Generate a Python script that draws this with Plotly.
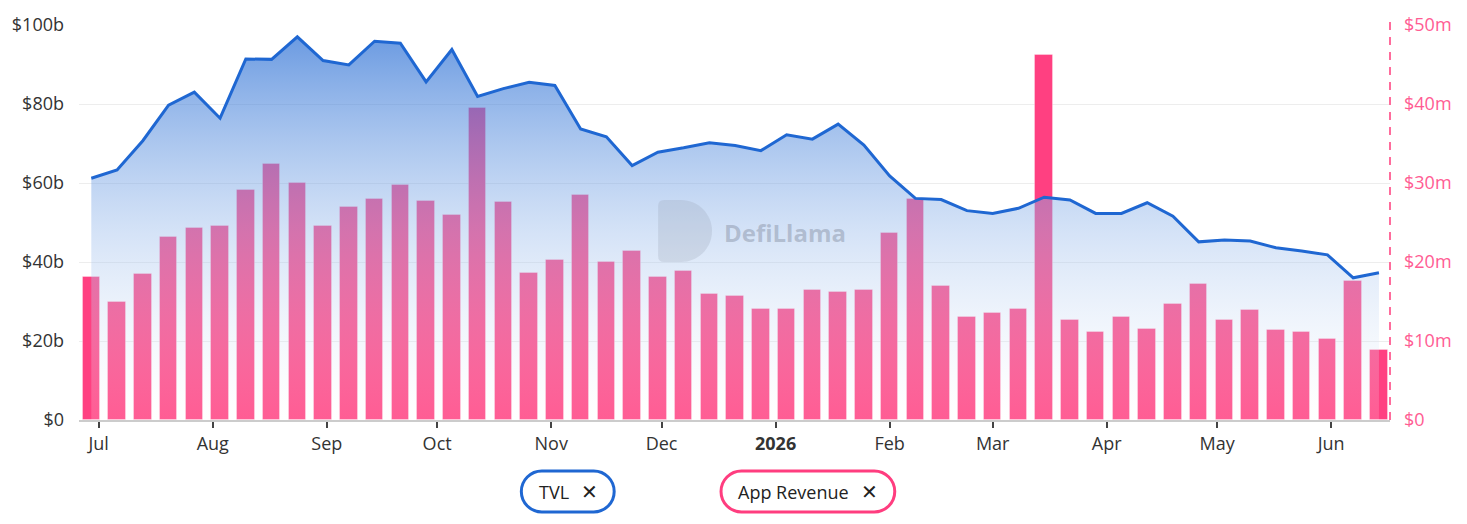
import plotly.graph_objects as go
import pandas as pd

# ---------------- data ----------------
week_start = "2025-06-29"
n_weeks = 51
dates = pd.date_range(week_start, periods=n_weeks, freq="7D")

tvl_billions = [
    61.2, 63.3, 70.7, 79.7, 83.0, 76.4, 91.4, 91.3, 97.0, 91.0,
    89.9, 95.9, 95.4, 85.6, 93.8, 81.9, 83.9, 85.5, 84.7, 73.7,
    71.7, 64.4, 67.8, 68.9, 70.2, 69.5, 68.2, 72.2, 71.1, 74.9,
    69.6, 61.8, 56.1, 55.8, 53.0, 52.3, 53.6, 56.4, 55.7, 52.3,
    52.3, 55.0, 51.6, 45.1, 45.6, 45.3, 43.6, 42.8, 41.8, 36.0,
    37.3,
]
app_revenue_millions = [
    18.1, 14.9, 18.5, 23.2, 24.3, 24.6, 29.1, 32.4, 30.0, 24.6,
    26.9, 28.0, 29.8, 27.7, 26.0, 39.5, 27.6, 18.6, 20.3, 28.5,
    20.0, 21.4, 18.1, 18.8, 15.9, 15.7, 14.1, 14.0, 16.4, 16.2,
    16.4, 23.7, 28.0, 17.0, 13.1, 13.6, 14.1, 46.2, 12.6, 11.2,
    13.0, 11.5, 14.7, 17.2, 12.7, 13.9, 11.4, 11.1, 10.2, 17.6,
    8.8,
]

month_ticks = ["2025-07-01", "2025-08-01", "2025-09-01", "2025-10-01", "2025-11-01",
               "2025-12-01", "2026-01-01", "2026-02-01", "2026-03-01", "2026-04-01",
               "2026-05-01", "2026-06-01"]
month_labels = ["Jul", "Aug", "Sep", "Oct", "Nov", "Dec", "<b>2026</b>", "Feb", "Mar",
                "Apr", "May", "Jun"]
tvl_ticks = [0, 20, 40, 60, 80, 100]
tvl_tick_labels = ["$0", "$20b", "$40b", "$60b", "$80b", "$100b"]
rev_ticks = [0, 10, 20, 30, 40, 50]
rev_tick_labels = ["$0", "$10m", "$20m", "$30m", "$40m", "$50m"]

# ---------------- style ----------------
W, H = 1467, 524
ML, MR, MT, MB = 77, 77, 25, 104
PW = W - ML - MR
PH = H - MT - MB
FONT = "Open Sans"
BLUE = "#1f67d2"
PINK = "#ff4081"
PINK_TXT = "#ff5c93"


def px(x):
    return (x - ML) / PW


def py(y):
    return (MT + PH - y) / PH


def pill(x0, y0, x1, y1):
    r = (y1 - y0) / 2
    k = 0.5523 * r
    pts = [
        ("M", [(x0 + r, y0)]),
        ("L", [(x1 - r, y0)]),
        ("C", [(x1 - r + k, y0), (x1, y0 + r - k), (x1, y0 + r)]),
        ("C", [(x1, y0 + r + k), (x1 - r + k, y1), (x1 - r, y1)]),
        ("L", [(x0 + r, y1)]),
        ("C", [(x0 + r - k, y1), (x0, y1 - r + k), (x0, y1 - r)]),
        ("C", [(x0, y0 + r - k), (x0 + r - k, y0), (x0 + r, y0)]),
    ]
    s = ""
    for cmd, ps in pts:
        s += cmd + " " + " ".join(f"{px(a):.5f},{py(b):.5f}" for a, b in ps) + " "
    return s + "Z"


def dshape(x0, y0, x1, y1):
    # "D" logo outline: rounded left corners, semicircular right side
    h = y1 - y0
    r = h / 2
    c = 6
    k = 0.5523
    xm = x1 - r
    s = (f"M {px(x0 + c):.5f},{py(y0):.5f} L {px(xm):.5f},{py(y0):.5f} "
         f"C {px(xm + k * r):.5f},{py(y0):.5f} {px(x1):.5f},{py(y0 + r - k * r):.5f} {px(x1):.5f},{py(y0 + r):.5f} "
         f"C {px(x1):.5f},{py(y0 + r + k * r):.5f} {px(xm + k * r):.5f},{py(y1):.5f} {px(xm):.5f},{py(y1):.5f} "
         f"L {px(x0 + c):.5f},{py(y1):.5f} "
         f"Q {px(x0):.5f},{py(y1):.5f} {px(x0):.5f},{py(y1 - c):.5f} "
         f"L {px(x0):.5f},{py(y0 + c):.5f} "
         f"Q {px(x0):.5f},{py(y0):.5f} {px(x0 + c):.5f},{py(y0):.5f} Z")
    return s


fig = go.Figure()

# bars on primary y (right side) so the TVL area draws over them
fig.add_trace(go.Bar(
    x=dates, y=app_revenue_millions, name="App Revenue",
    marker=dict(color=PINK, line=dict(color="rgba(255,255,255,0.3)", width=1)),
    width=4.75 * 86400000, yaxis="y", showlegend=False,
))

fig.add_trace(go.Scatter(
    x=dates, y=tvl_billions, name="TVL", mode="lines",
    line=dict(color=BLUE, width=3),
    fill="tozeroy",
    fillgradient=dict(type="vertical",
                      colorscale=[[0, "rgba(255,255,255,0.15)"],
                                  [0.5, "rgba(150,185,235,0.42)"],
                                  [1, "rgba(31,103,210,0.66)"]],
                      start=0, stop=max(tvl_billions)),
    yaxis="y2", showlegend=False,
))

shapes = []
# dashed right axis line
shapes.append(dict(type="line", xref="paper", yref="paper", x0=1, x1=1, y0=0, y1=py(20),
                   line=dict(color="#ff6c9c", width=2, dash="8px,7px"), layer="above"))
# legend pills
shapes.append(dict(type="path", xref="paper", yref="paper", path=pill(520, 471, 613, 512),
                   line=dict(color=BLUE, width=3), fillcolor="white"))
shapes.append(dict(type="path", xref="paper", yref="paper", path=pill(720, 471, 894, 512),
                   line=dict(color="#ff3d7f", width=3), fillcolor="white"))
# watermark logo
shapes.append(dict(type="path", xref="paper", yref="paper", path=dshape(657, 200, 711, 262),
                   line=dict(width=0), fillcolor="rgba(140,150,170,0.22)", layer="above"))

annotations = [
    dict(text="TVL", x=px(536), y=py(492), xref="paper", yref="paper", xanchor="left",
         yanchor="middle", showarrow=False, font=dict(family=FONT, size=18, color="#222")),
    dict(text="✕", x=px(588), y=py(492), xref="paper", yref="paper", xanchor="center",
         yanchor="middle", showarrow=False, font=dict(family="DejaVu Sans", size=20, color="#222")),
    dict(text="App Revenue", x=px(735), y=py(492), xref="paper", yref="paper", xanchor="left",
         yanchor="middle", showarrow=False, font=dict(family=FONT, size=18, color="#222")),
    dict(text="✕", x=px(869), y=py(492), xref="paper", yref="paper", xanchor="center",
         yanchor="middle", showarrow=False, font=dict(family="DejaVu Sans", size=20, color="#222")),
    dict(text="<b>DefiLlama</b>", x=px(721), y=py(232), xref="paper", yref="paper",
         xanchor="left", yanchor="middle", showarrow=False,
         font=dict(family=FONT, size=24, color="rgba(130,140,160,0.45)")),
]

fig.update_layout(
    width=W, height=H,
    margin=dict(l=ML, r=MR, t=MT, b=MB, pad=0),
    paper_bgcolor="white", plot_bgcolor="white",
    font=dict(family=FONT, size=18, color="#333"),
    bargap=0,
    shapes=shapes, annotations=annotations,
    showlegend=False,
    xaxis=dict(
        type="date",
        range=["2025-06-25 15:40", "2026-06-17 00:00"],
        tickmode="array", tickvals=month_ticks, ticktext=month_labels,
        ticks="outside", ticklen=6, tickwidth=1.5, tickcolor="#444",
        showline=True, linecolor="#cccccc", linewidth=2,
        showgrid=False, zeroline=False,
        tickfont=dict(family=FONT, size=18, color="#333"),
    ),
    yaxis=dict(
        side="right", range=[0, 50],
        tickmode="array", tickvals=rev_ticks, ticktext=rev_tick_labels,
        tickfont=dict(family=FONT, size=18, color=PINK_TXT),
        showgrid=False, zeroline=False, showline=False, ticks="",
        ticklabelstandoff=13,
    ),
    yaxis2=dict(
        overlaying="y", side="left", range=[0, 100],
        tickmode="array", tickvals=tvl_ticks, ticktext=tvl_tick_labels,
        tickfont=dict(family=FONT, size=18, color="#333"),
        showgrid=True, gridcolor="#ededed", gridwidth=1,
        zeroline=False, showline=False, ticks="",
        ticklabelstandoff=14,
    ),
)

fig.write_html("out.html")
